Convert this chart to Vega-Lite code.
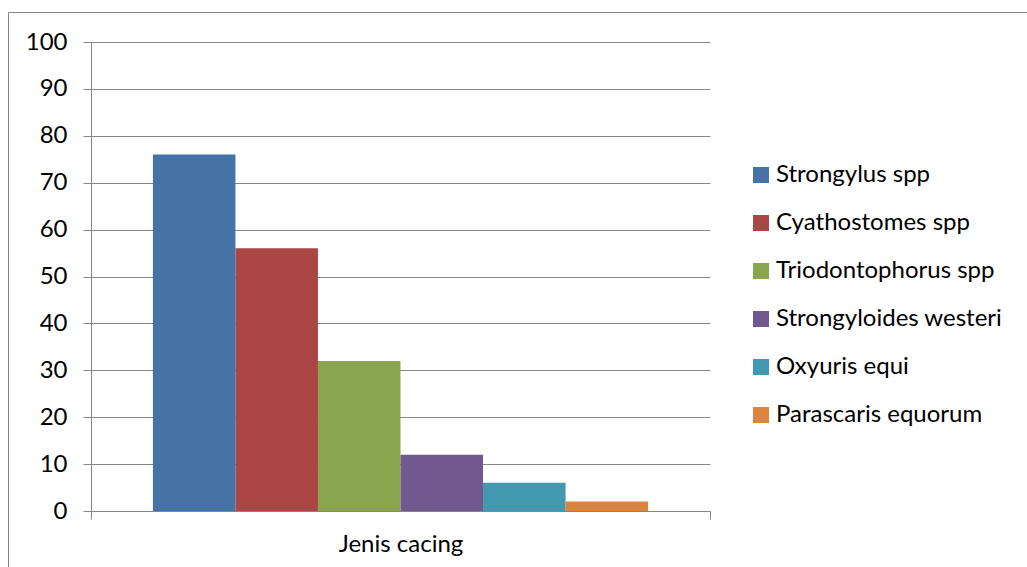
{
  "$schema": "https://vega.github.io/schema/vega-lite/v6.json",
  "width": 1020,
  "height": 556,
  "padding": {"left": 8, "top": 12, "right": -1, "bottom": -1},
  "autosize": {"type": "none"},
  "background": "white",
  "config": {
    "view": {"stroke": "#868686", "strokeWidth": 1},
    "font": "Lato",
    "axis": {"labelFont": "Lato", "labelColor": "black", "domainColor": "#868686", "tickColor": "#868686", "gridColor": "#868686", "gridOpacity": 1, "domainWidth": 1, "tickWidth": 1, "gridWidth": 1}
  },
  "data": {
    "values": [
      {"group": "Jenis cacing", "species": "Strongylus spp", "value": 76},
      {"group": "Jenis cacing", "species": "Cyathostomes spp", "value": 56},
      {"group": "Jenis cacing", "species": "Triodontophorus spp", "value": 32},
      {"group": "Jenis cacing", "species": "Strongyloides westeri", "value": 12},
      {"group": "Jenis cacing", "species": "Oxyuris equi", "value": 6},
      {"group": "Jenis cacing", "species": "Parascaris equorum", "value": 2}
    ]
  },
  "mark": {"type": "bar", "strokeWidth": 0},
  "encoding": {
    "x": {
      "field": "group",
      "type": "nominal",
      "scale": {"range": [83, 702], "paddingInner": 0, "paddingOuter": 0},
      "axis": {"title": null, "orient": "bottom", "offset": -57, "tickBand": "extent", "tickSize": 8, "labelFontSize": 24, "labelAngle": 0, "labelPadding": 13, "grid": false}
    },
    "xOffset": {
      "field": "species",
      "type": "nominal",
      "sort": ["Strongylus spp", "Cyathostomes spp", "Triodontophorus spp", "Strongyloides westeri", "Oxyuris equi", "Parascaris equorum"],
      "scale": {"paddingInner": 0, "paddingOuter": 0.75}
    },
    "y": {
      "field": "value",
      "type": "quantitative",
      "scale": {"domain": [0, 100], "range": [499, 30], "nice": false, "zero": true},
      "axis": {"title": null, "orient": "left", "offset": -83, "values": [0, 10, 20, 30, 40, 50, 60, 70, 80, 90, 100], "tickSize": 8, "labelFontSize": 24, "labelPadding": 16, "grid": true}
    },
    "color": {
      "field": "species",
      "type": "nominal",
      "sort": ["Strongylus spp", "Cyathostomes spp", "Triodontophorus spp", "Strongyloides westeri", "Oxyuris equi", "Parascaris equorum"],
      "scale": {
        "domain": ["Strongylus spp", "Cyathostomes spp", "Triodontophorus spp", "Strongyloides westeri", "Oxyuris equi", "Parascaris equorum"],
        "range": ["#4572A7", "#AA4643", "#89A54E", "#71588F", "#4198AF", "#DB843D"]
      },
      "legend": {"title": null, "orient": "none", "legendX": 741, "legendY": 151, "padding": 0, "symbolType": "square", "symbolSize": 256, "symbolStrokeWidth": 0, "symbolOpacity": 1, "labelFontSize": 24, "labelFont": "Lato", "labelColor": "black", "labelOffset": 3, "labelLimit": 400, "rowPadding": 24}
    }
  }
}
